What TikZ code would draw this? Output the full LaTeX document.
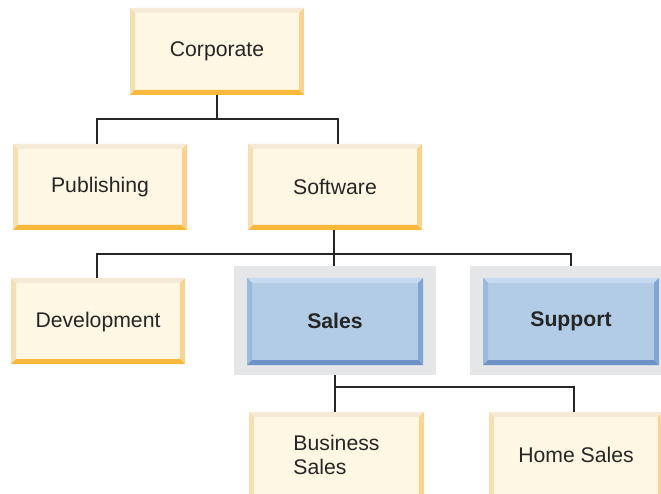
\documentclass[tikz,border=0pt]{standalone}
\usepackage{fontspec}
\setmainfont{Liberation Sans}
\definecolor{creamF}{HTML}{FEF7E3}
\definecolor{creamT}{HTML}{F5EAD6}
\definecolor{creamL}{HTML}{F5DFB5}
\definecolor{creamR}{HTML}{FAD38F}
\definecolor{creamB}{HTML}{F8B83C}
\definecolor{blueF}{HTML}{B2CCE5}
\definecolor{blueT}{HTML}{C5DAEE}
\definecolor{blueL}{HTML}{99BADB}
\definecolor{blueR}{HTML}{80A6D3}
\definecolor{blueB}{HTML}{6D92C5}
\definecolor{backdrop}{HTML}{E5E6E8}
\definecolor{inkc}{HTML}{262626}
\tikzset{
  orgbox/.style={inner sep=0pt,outer sep=0pt,text=inkc,align=left,font=\fontsize{21.2}{24}\selectfont},
  halo/.style={fill=backdrop,inner sep=0pt,outer sep=0pt},
  wire/.style={draw=inkc,line width=1.8pt},
}
\def\bevelextra{0}
% #1 colour prefix, #2 name, #3-#6 x0 y0 x1 y1, #7 text
\newcommand{\bevelbox}[7]{%
  \fill[#1F] (#3,#4) rectangle (#5,#6+\bevelextra);
  \fill[#1T] (#3,#4) -- (#5,#4) -- (#5-5,#4+5) -- (#3+5,#4+5) -- cycle;
  \fill[#1L] (#3,#4) -- (#3+5,#4+5) -- (#3+5,#6+\bevelextra-5) -- (#3,#6+\bevelextra) -- cycle;
  \fill[#1R] (#5,#4) -- (#5-5,#4+5) -- (#5-5,#6+\bevelextra-5) -- (#5,#6+\bevelextra) -- cycle;
  \fill[#1B] (#3,#6+\bevelextra) -- (#3+5,#6+\bevelextra-5) -- (#5-5,#6+\bevelextra-5) -- (#5,#6+\bevelextra) -- cycle;
  \node[orgbox,minimum width={(#5-#3)*1pt},minimum height={(#6-#4)*1pt}] (#2) at ({(#3+#5)/2},{(#4+#6)/2}) {#7};
}
\newcommand{\halobox}[5]{%
  \node[halo,minimum width={(#4-#2)*1pt},minimum height={(#5-#3)*1pt}] (#1) at ({(#2+#4)/2},{(#3+#5)/2}) {};
}
\begin{document}
\begin{tikzpicture}[x=1pt,y=-1pt]
\useasboundingbox (0,0) rectangle (661,494);
\clip (0,0) rectangle (661,494);
\halobox{salesHalo}{234}{266}{436}{375}
\halobox{supportHalo}{470}{266}{661}{375}
\bevelbox{cream}{corp}{130}{8}{304}{95}{Corporate}
\bevelbox{cream}{pub}{13}{144}{187}{230}{Publishing}
\bevelbox{cream}{soft}{248}{144}{422}{230}{Software}
\bevelbox{cream}{dev}{11}{278}{185}{364}{\rule{0pt}{17.5pt}Development}
\bevelbox{blue}{sales}{247}{278}{423}{365}{\rule[-2pt]{0pt}{1pt}\textbf{Sales}}
\bevelbox{blue}{support}{483}{278}{659}{365}{\textbf{Support}}
\def\bevelextra{10}
\bevelbox{cream}{bus}{249}{412}{424}{498}{Business\\Sales}
\bevelbox{cream}{home}{489}{412}{663}{498}{Home Sales}
\coordinate (busA) at (217,119);
\coordinate (busB) at (334,254);
\coordinate (busC) at (335,387);
\draw[wire] (corp.south) -- (busA);
\draw[wire] (pub.north -| 97,0) |- (busA) -| (338,0 |- soft.north);
\draw[wire] (soft.south -| busB) -- (busB);
\draw[wire] (dev.north -| 97,0) |- (busB) -| (571,0 |- supportHalo.north);
\draw[wire] (busB) -- (salesHalo.north -| busB);
\draw[wire] (salesHalo.south -| busC) -- (busC);
\draw[wire] (bus.north -| busC) -- (busC) -| (574,0 |- home.north);
\end{tikzpicture}
\end{document}
